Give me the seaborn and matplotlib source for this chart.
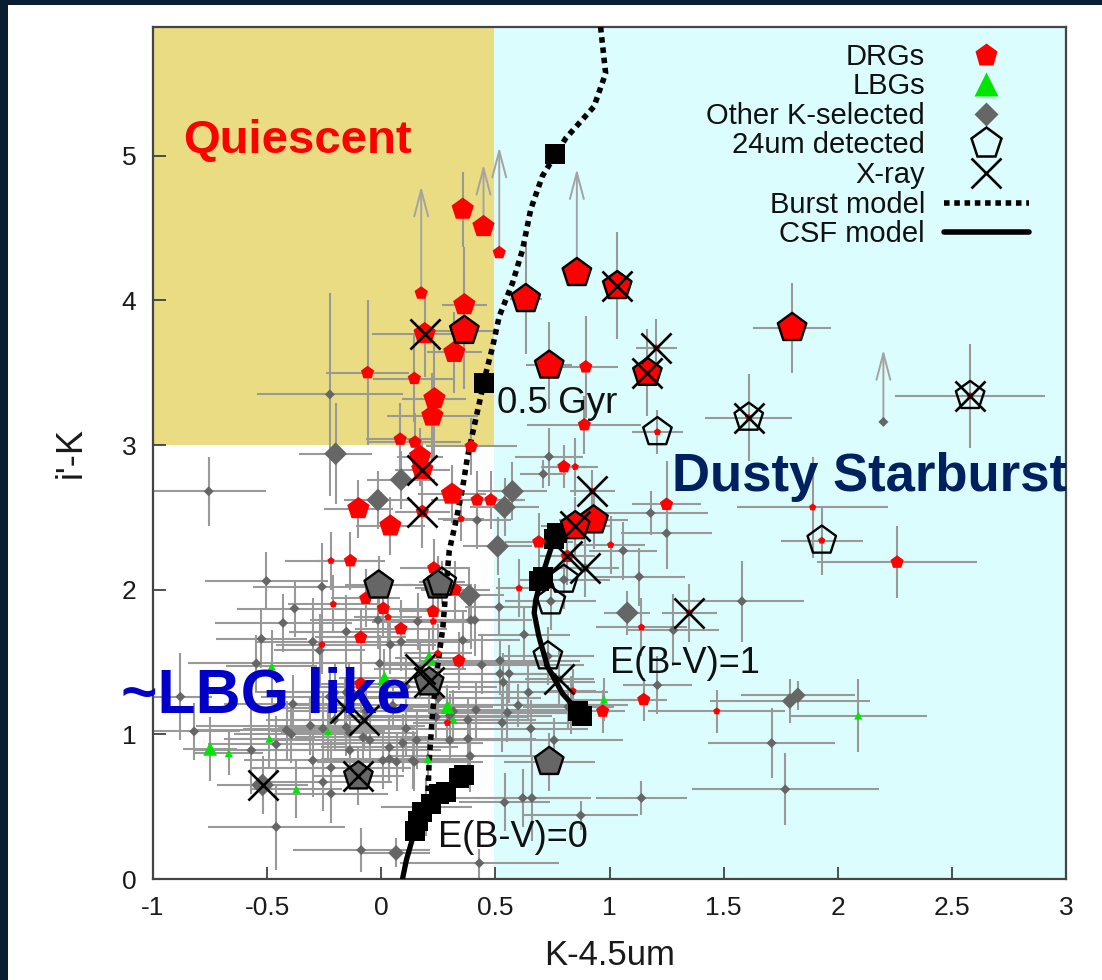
import numpy as np
import pandas as pd
import matplotlib
matplotlib.use("Agg")
import matplotlib.pyplot as plt
from matplotlib.patches import Rectangle
from matplotlib.lines import Line2D
import seaborn as sns

# ---------------------------------------------------------------------------
# Distant red galaxies (DRGs): colours, errors, K magnitude, 24um / X-ray flags
# ---------------------------------------------------------------------------
drg_x = [0.357, 0.448, 0.517, 0.175, 0.857, 0.633, 1.034, 0.364, 0.364, 0.320,
         0.190, 0.145, 0.233, 0.224, 0.736, 0.896, 1.205, 1.166, 1.210, 1.610,
         2.580, 1.800, -0.060, 0.890, 0.800, 0.850, 0.083, 0.148, 0.394, 0.170,
         0.180, -0.100, 0.040, 0.180, 0.310, 0.420, 0.480, 0.350, 0.690, 0.925,
         0.930, 0.850, 0.815, 1.005, 1.250, 1.890, 1.930, 2.260, 1.350, 1.140,
         1.150, 0.970, 1.470, 0.840, 0.604, -0.220, -0.135, 0.230, 0.248, 0.325,
         -0.068, -0.210, 0.009, 0.030, 0.227, 0.228, 0.086, -0.090, -0.260, 0.340,
         0.248, -0.090, 0.290]
drg_y = [4.63, 4.51, 4.33, 4.05, 4.19, 4.01, 4.10, 3.79, 3.97, 3.64,
         3.77, 3.46, 3.32, 3.20, 3.55, 3.54, 3.67, 3.50, 3.09, 3.19,
         3.34, 3.81, 3.50, 3.14, 2.85, 2.85, 3.04, 3.02, 2.99, 2.92,
         2.83, 2.56, 2.44, 2.54, 2.66, 2.62, 2.62, 2.49, 2.33, 2.68,
         2.48, 2.44, 2.23, 2.31, 2.59, 2.57, 2.34, 2.19, 1.84, 1.74,
         1.24, 1.16, 1.16, 1.30, 2.01, 2.20, 2.20, 2.15, 2.01, 2.00,
         1.94, 1.90, 1.87, 1.81, 1.85, 1.78, 1.73, 1.67, 1.62, 1.51,
         1.56, 1.35, 1.08]
drg_xerr = [0.04, 0.03, 0.00, 0.00, 0.00, 0.07, 0.03, 0.14, 0.10, 0.12,
            0.23, 0.18, 0.14, 0.20, 0.10, 0.14, 0.09, 0.04, 0.11, 0.19,
            0.33, 0.17, 0.18, 0.25, 0.10, 0.10, 0.15, 0.20, 0.20, 0.10,
            0.12, 0.15, 0.15, 0.12, 0.15, 0.20, 0.15, 0.10, 0.15, 0.10,
            0.15, 0.15, 0.12, 0.15, 0.15, 0.33, 0.18, 0.35, 0.12, 0.20,
            0.10, 0.10, 0.30, 0.10, 0.10, 0.20, 0.15, 0.15, 0.10, 0.15,
            0.15, 0.20, 0.20, 0.15, 0.15, 0.15, 0.20, 0.20, 0.20, 0.15,
            0.15, 0.20, 0.15]
drg_yerr = [0.26, 0.00, 0.00, 0.00, 0.00, 0.38, 0.37, 0.40, 0.40, 0.28,
            0.30, 0.30, 0.40, 0.30, 0.30, 0.35, 0.20, 0.30, 0.15, 0.30,
            0.36, 0.31, 0.50, 0.20, 0.15, 0.20, 0.25, 0.20, 0.20, 0.20,
            0.20, 0.20, 0.20, 0.25, 0.20, 0.20, 0.20, 0.15, 0.20, 0.15,
            0.20, 0.20, 0.20, 0.20, 0.30, 0.35, 0.24, 0.25, 0.20, 0.20,
            0.15, 0.15, 0.15, 0.15, 0.20, 0.20, 0.20, 0.20, 0.20, 0.20,
            0.20, 0.20, 0.20, 0.20, 0.20, 0.20, 0.20, 0.20, 0.20, 0.20,
            0.20, 0.20, 0.15]
drg_kmag = [19.9, 19.9, 21.0, 21.0, 19.9, 19.9, 19.9, 19.9, 19.9, 19.9,
            19.9, 21.0, 19.9, 19.9, 19.9, 21.0, 22.0, 19.9, 22.0, 22.0,
            22.0, 19.9, 21.0, 21.0, 21.0, 22.0, 21.0, 21.0, 21.0, 19.9,
            19.9, 19.9, 19.9, 21.0, 19.9, 21.0, 21.0, 22.0, 21.0, 22.0,
            19.9, 19.9, 21.0, 22.0, 21.0, 22.0, 22.0, 21.0, 22.0, 22.0,
            21.0, 21.0, 22.0, 22.0, 22.0, 22.0, 21.0, 21.0, 22.0, 21.0,
            21.0, 22.0, 21.0, 22.0, 21.0, 22.0, 21.0, 21.0, 22.0, 21.0,
            22.0, 21.0, 22.0]
drg_mips = [0, 0, 0, 0, 1, 1, 1, 1, 0, 0,
            0, 0, 0, 0, 1, 0, 0, 1, 1, 1,
            1, 1, 0, 0, 0, 0, 0, 0, 0, 0,
            0, 0, 0, 0, 0, 0, 0, 0, 0, 0,
            1, 1, 0, 0, 0, 0, 1, 0, 0, 0,
            0, 0, 0, 0, 0, 0, 0, 0, 0, 0,
            0, 0, 0, 0, 0, 0, 0, 0, 0, 0,
            0, 0, 0]
drg_xray = [0, 0, 0, 0, 0, 0, 1, 0, 0, 0,
            1, 0, 0, 0, 0, 0, 1, 1, 0, 1,
            1, 0, 0, 0, 0, 0, 0, 0, 0, 0,
            1, 0, 0, 1, 0, 0, 0, 0, 0, 1,
            0, 1, 1, 0, 0, 0, 0, 0, 1, 0,
            0, 0, 0, 0, 0, 0, 0, 0, 0, 0,
            0, 0, 0, 0, 0, 0, 0, 0, 0, 0,
            0, 0, 0]

# ---------------------------------------------------------------------------
# Lyman-break galaxies (LBGs)
# ---------------------------------------------------------------------------
lbg_x = [-0.750, -0.668, -0.490, -0.233, -0.372, -0.480, 0.014, 0.210, 0.290,
         0.316, 0.204, 0.976, 2.090]
lbg_y = [0.90, 0.87, 0.97, 1.02, 0.62, 1.47, 1.39, 1.53, 1.19,
         1.10, 0.83, 1.24, 1.13]
lbg_xerr = [0.12, 0.15, 0.20, 0.25, 0.20, 0.20, 0.20, 0.15, 0.20,
            0.20, 0.20, 0.15, 0.30]
lbg_yerr = [0.22, 0.15, 0.20, 0.20, 0.20, 0.25, 0.20, 0.20, 0.15,
            0.15, 0.15, 0.15, 0.25]
lbg_kmag = [21.0, 22.0, 22.0, 22.0, 22.0, 22.0, 21.0, 21.0, 21.0,
            22.0, 22.0, 22.0, 22.0]

# ---------------------------------------------------------------------------
# Other K-selected galaxies
# ---------------------------------------------------------------------------
oth_x = [-0.200, 0.087, -0.015, 0.575, 0.540, 0.510, 0.386, 1.078, -0.011, 0.248,
         0.210, -0.100, -0.520, 0.736, 0.065, -0.140, 1.790, 1.825, -0.756, -0.225,
         0.735, 0.710, 0.420, 1.180, 1.250, 1.060, 1.130, 0.517, 0.626, 0.820,
         0.520, 0.560, 1.580, 1.280, 1.210, 1.710, 1.770, 1.140, 0.874, 2.200,
         -0.503, -0.260, -0.380, -0.430, -0.153, -0.525, -0.300, -0.270, 0.087, 0.040,
         0.160, 0.357, 0.393, -0.880, -0.820, -0.387, -0.255, -0.153, -0.394, -0.569,
         -0.460, -0.300, -0.220, -0.255, -0.220, -0.460, -0.088, 0.430, 0.240, 0.300,
         0.300, 0.109, -0.080, 0.036, 0.145, 0.007, -0.066, -0.204, -0.139, -0.226,
         0.380, 0.553, 0.530, 0.655, 0.757, 0.415, 0.620, 0.660, 0.540, 0.138,
         0.036, 0.094, 0.197, 0.380, 0.830, 0.800, 0.743, 0.730, 0.780, 0.893,
         -0.160, -0.076, -0.014, 0.410, 0.265, 0.170, -0.547, -0.415, -0.050, 0.155,
         0.390, 0.316, 0.535, 0.440, 0.520, 0.645, -0.310, -0.138, 0.067, 0.109,
         -0.007, 0.340, -0.204, 0.250, 0.050, 0.600]
oth_y = [2.94, 2.76, 2.62, 2.68, 2.57, 2.30, 1.96, 1.84, 2.03, 2.03,
         1.36, 0.71, 0.65, 0.81, 0.18, 1.29, 1.23, 1.27, 2.68, 3.35,
         2.92, 2.80, 2.48, 2.53, 2.39, 2.27, 2.09, 1.88, 1.69, 1.19,
         1.42, 1.42, 1.92, 1.72, 1.34, 0.94, 0.62, 0.56, 0.44, 3.16,
         2.06, 2.02, 1.87, 1.77, 1.71, 1.66, 1.64, 1.58, 1.64, 1.62,
         1.78, 1.65, 1.79, 1.26, 1.02, 1.21, 1.04, 1.05, 1.00, 0.89,
         0.93, 0.82, 0.77, 0.67, 0.59, 0.36, 0.20, 0.11, 1.12, 1.13,
         0.96, 1.04, 0.98, 0.91, 0.81, 0.82, 1.16, 1.10, 1.01, 1.26,
         0.97, 1.15, 1.08, 1.04, 0.96, 1.17, 0.56, 0.56, 0.53, 0.82,
         0.83, 0.94, 0.50, 1.10, 1.20, 2.07, 1.92, 1.54, 1.38, 2.15,
         1.18, 1.10, 1.79, 1.79, 2.05, 1.45, 1.49, 1.03, 0.96, 0.96,
         0.85, 1.16, 1.36, 1.48, 1.51, 1.29, 1.06, 0.89, 0.81, 1.33,
         1.49, 1.49, 1.29, 1.25, 1.20, 1.20]
oth_xerr = [0.16, 0.15, 0.15, 0.15, 0.15, 0.15, 0.15, 0.10, 0.15, 0.15,
            0.20, 0.20, 0.20, 0.20, 0.15, 0.30, 0.35, 0.25, 0.25, 0.32,
            0.15, 0.10, 0.15, 0.25, 0.20, 0.15, 0.20, 0.15, 0.20, 0.20,
            0.25, 0.15, 0.27, 0.20, 0.15, 0.28, 0.41, 0.20, 0.25, 0.00,
            0.27, 0.30, 0.25, 0.30, 0.25, 0.20, 0.25, 0.20, 0.30, 0.20,
            0.20, 0.25, 0.20, 0.14, 0.20, 0.30, 0.35, 0.30, 0.25, 0.25,
            0.30, 0.30, 0.35, 0.30, 0.25, 0.30, 0.30, 0.35, 0.40, 0.45,
            0.35, 0.30, 0.30, 0.30, 0.30, 0.25, 0.35, 0.30, 0.30, 0.30,
            0.30, 0.35, 0.30, 0.25, 0.30, 0.40, 0.30, 0.25, 0.20, 0.25,
            0.30, 0.35, 0.20, 0.30, 0.25, 0.20, 0.20, 0.20, 0.15, 0.15,
            0.30, 0.30, 0.30, 0.25, 0.10, 0.20, 0.30, 0.40, 0.45, 0.40,
            0.35, 0.50, 0.40, 0.45, 0.35, 0.35, 0.50, 0.40, 0.35, 0.40,
            0.35, 0.40, 0.35, 0.45, 0.45, 0.35]
oth_yerr = [0.35, 0.20, 0.20, 0.20, 0.20, 0.20, 0.20, 0.15, 0.20, 0.20,
            0.20, 0.20, 0.20, 0.20, 0.10, 0.20, 0.15, 0.10, 0.24, 0.70,
            0.20, 0.10, 0.20, 0.15, 0.25, 0.20, 0.20, 0.20, 0.20, 0.15,
            0.15, 0.20, 0.28, 0.25, 0.20, 0.24, 0.25, 0.12, 0.10, 0.00,
            0.20, 0.30, 0.20, 0.20, 0.25, 0.20, 0.30, 0.25, 0.20, 0.20,
            0.20, 0.20, 0.20, 0.30, 0.20, 0.20, 0.25, 0.20, 0.20, 0.30,
            0.20, 0.25, 0.20, 0.20, 0.20, 0.30, 0.15, 0.10, 0.15, 0.15,
            0.15, 0.20, 0.20, 0.20, 0.20, 0.20, 0.20, 0.20, 0.15, 0.20,
            0.20, 0.20, 0.20, 0.20, 0.15, 0.20, 0.20, 0.30, 0.20, 0.20,
            0.15, 0.20, 0.20, 0.15, 0.20, 0.20, 0.20, 0.20, 0.20, 0.20,
            0.20, 0.20, 0.20, 0.25, 0.15, 0.20, 0.20, 0.20, 0.20, 0.20,
            0.25, 0.15, 0.20, 0.20, 0.15, 0.20, 0.20, 0.20, 0.20, 0.20,
            0.20, 0.15, 0.20, 0.15, 0.15, 0.15]
oth_kmag = [20.0, 20.0, 20.0, 20.0, 20.0, 20.0, 20.0, 20.0, 20.0, 20.0,
            20.0, 20.0, 20.0, 20.0, 21.0, 21.0, 21.0, 21.0, 22.0, 22.0,
            22.0, 22.0, 22.0, 22.0, 22.0, 22.0, 22.0, 22.0, 22.0, 22.0,
            22.0, 22.0, 22.0, 22.0, 22.0, 22.0, 22.0, 22.0, 22.0, 22.0,
            22.0, 22.0, 22.0, 22.0, 22.0, 22.0, 22.0, 22.0, 22.0, 22.0,
            22.0, 22.0, 22.0, 22.0, 22.0, 22.0, 22.0, 22.0, 22.0, 22.0,
            22.0, 22.0, 22.0, 22.0, 22.0, 22.0, 22.0, 22.0, 22.0, 22.0,
            22.0, 22.0, 22.0, 22.0, 22.0, 22.0, 22.0, 22.0, 22.0, 22.0,
            22.0, 22.0, 22.0, 22.0, 22.0, 22.0, 22.0, 22.0, 22.0, 22.0,
            22.0, 22.0, 22.0, 22.0, 22.0, 22.0, 22.0, 22.0, 22.0, 22.0,
            22.0, 22.0, 22.0, 22.0, 22.0, 22.0, 22.0, 22.0, 22.0, 22.0,
            22.0, 22.0, 22.0, 22.0, 22.0, 22.0, 22.0, 22.0, 22.0, 22.0,
            22.0, 22.0, 22.0, 22.0, 22.0, 22.0]
oth_mips = [0, 0, 0, 0, 0, 0, 0, 0, 1, 1,
            1, 1, 0, 1, 0, 0, 0, 0, 0, 0,
            0, 0, 0, 0, 0, 0, 0, 0, 0, 0,
            0, 0, 0, 0, 0, 0, 0, 0, 0, 0,
            0, 0, 0, 0, 0, 0, 0, 0, 0, 0,
            0, 0, 0, 0, 0, 0, 0, 0, 0, 0,
            0, 0, 0, 0, 0, 0, 0, 0, 0, 0,
            0, 0, 0, 0, 0, 0, 0, 0, 0, 0,
            0, 0, 0, 0, 0, 0, 0, 0, 0, 0,
            0, 0, 0, 0, 0, 1, 1, 1, 0, 0,
            0, 0, 0, 0, 1, 0, 0, 0, 0, 0,
            0, 0, 0, 0, 0, 0, 0, 0, 0, 0,
            0, 0, 0, 0, 0, 0]
oth_xray = [0, 0, 0, 0, 0, 0, 0, 0, 0, 0,
            1, 1, 1, 0, 0, 0, 0, 0, 0, 0,
            0, 0, 0, 0, 0, 0, 0, 0, 0, 0,
            0, 0, 0, 0, 0, 0, 0, 0, 0, 0,
            0, 0, 0, 0, 0, 0, 0, 0, 0, 0,
            0, 0, 0, 0, 0, 0, 0, 0, 0, 0,
            0, 0, 0, 0, 0, 0, 0, 0, 0, 0,
            0, 0, 0, 0, 0, 0, 0, 0, 0, 0,
            0, 0, 0, 0, 0, 0, 0, 0, 0, 0,
            0, 0, 0, 0, 0, 0, 0, 0, 1, 1,
            1, 1, 0, 0, 0, 1, 0, 0, 0, 0,
            0, 0, 0, 0, 0, 0, 0, 0, 0, 0,
            0, 0, 0, 0, 0, 0]

# lower limits in i'-K (source colour -> limit)
lim_x = [0.448, 0.517, 0.175, 0.857, 2.200]
lim_y = [4.51, 4.33, 4.05, 4.19, 3.16]
lim_top = [4.94, 5.06, 4.79, 4.91, 3.66]

# ---------------------------------------------------------------------------
# Model tracks
# ---------------------------------------------------------------------------
burst_x = [0.961, 0.983, 0.932, 0.808, 0.706, 0.655, 0.619, 0.575, 0.517, 0.488,
           0.459, 0.400, 0.378, 0.357, 0.328, 0.298, 0.284, 0.270, 0.245, 0.225,
           0.210, 0.204]
burst_y = [5.89, 5.57, 5.34, 5.12, 4.86, 4.63, 4.35, 4.12, 3.89, 3.68,
           3.50, 3.08, 2.92, 2.71, 2.48, 2.27, 2.02, 1.74, 1.45, 1.15,
           0.82, 0.57]
burst_age_x = [0.760, 0.450]
burst_age_y = [5.01, 3.43]

csf0_x = [0.093, 0.110, 0.137, 0.160, 0.200, 0.270, 0.364]
csf0_y = [0.00, 0.13, 0.28, 0.38, 0.48, 0.60, 0.72]
csf1_x = [0.880, 0.795, 0.728, 0.690, 0.670, 0.677, 0.700, 0.728, 0.757, 0.790]
csf1_y = [1.13, 1.28, 1.47, 1.68, 1.84, 1.93, 2.07, 2.21, 2.35, 2.42]
csf_age_x = [0.150, 0.160, 0.180, 0.220, 0.255, 0.285, 0.340, 0.364,
             0.860, 0.880, 0.690, 0.710, 0.757, 0.772]
csf_age_y = [0.33, 0.40, 0.46, 0.52, 0.59, 0.60, 0.70, 0.72,
             1.16, 1.13, 2.06, 2.09, 2.35, 2.39]

xtick_vals = [-1, -0.5, 0, 0.5, 1, 1.5, 2, 2.5, 3]
xtick_labels = ["-1", "-0.5", "0", "0.5", "1", "1.5", "2", "2.5", "3"]
ytick_vals = [0, 1, 2, 3, 4, 5]
ytick_labels = ["0", "1", "2", "3", "4", "5"]

legend_labels = ["DRGs", "LBGs", "Other K-selected", "24um detected", "X-ray",
                 "Burst model", "CSF model"]

# ---------------------------------------------------------------------------
RED, GREEN, GREY = "#FF0000", "#00E600", "#666666"
BAR = "#999999"
DOTS = (0, (1.0, 0.85))


def kclass(mag):
    mag = np.asarray(mag, dtype=float)
    return np.where(mag < 20.5, "bright", np.where(mag < 21.5, "mid", "faint"))


drg = pd.DataFrame(dict(x=drg_x, y=drg_y, xerr=drg_xerr, yerr=drg_yerr,
                        kmag=drg_kmag, mips=drg_mips, xray=drg_xray))
drg["color"] = RED
lbg = pd.DataFrame(dict(x=lbg_x, y=lbg_y, xerr=lbg_xerr, yerr=lbg_yerr,
                        kmag=lbg_kmag))
lbg["mips"] = 0
lbg["xray"] = 0
lbg["color"] = GREEN
oth = pd.DataFrame(dict(x=oth_x, y=oth_y, xerr=oth_xerr, yerr=oth_yerr,
                        kmag=oth_kmag, mips=oth_mips, xray=oth_xray))
oth["color"] = GREY
for df in (drg, lbg, oth):
    df["kclass"] = kclass(df["kmag"])

sns.set_theme(style="ticks")
plt.rcParams["font.family"] = ["Liberation Sans", "DejaVu Sans"]
plt.rcParams["axes.unicode_minus"] = False

W, H = 1102, 980
fig = plt.figure(figsize=(W / 100, H / 100), dpi=100)
fig.patch.set_facecolor("#0B1D33")
fig.add_artist(Rectangle((8 / W, 0), 1 - 8 / W, 1 - 5 / H, transform=fig.transFigure,
                         facecolor="white", edgecolor="none", zorder=-5))

ax_l, ax_r, ax_t, ax_b = 153, 1066, 27, 879
ax = fig.add_axes([ax_l / W, 1 - ax_b / H, (ax_r - ax_l) / W, (ax_b - ax_t) / H])
ax.set_facecolor("white")
ax.set_xlim(-1, 3)
ax.set_ylim(0, 5.89)

# colour-selected regions
ax.add_patch(Rectangle((-1, 3), 1.495, 3.0, facecolor="#E9DC82", edgecolor="none", zorder=0))
ax.add_patch(Rectangle((0.495, 0), 2.6, 6.0, facecolor="#DCFDFD", edgecolor="none", zorder=0))

# error bars
for df in (oth, lbg, drg):
    ax.errorbar(df["x"], df["y"], xerr=df["xerr"], yerr=df["yerr"], fmt="none",
                ecolor=BAR, elinewidth=1.5, capsize=0, zorder=2)
for lx, ly, lt in zip(lim_x, lim_y, lim_top):
    ax.annotate("", xy=(lx, lt), xytext=(lx, ly),
                arrowprops=dict(arrowstyle="->,head_length=0.95,head_width=0.25",
                                color="#A3A3A3", lw=1.4, shrinkA=0, shrinkB=0,
                                mutation_scale=20),
                zorder=2)

# galaxy samples
sns.scatterplot(data=oth, x="x", y="y", size="kclass",
                sizes={"bright": 135, "mid": 65, "faint": 26},
                marker="D", color=GREY, linewidth=0, legend=False, ax=ax, zorder=3)

# model tracks
ax.plot(burst_x, burst_y, color="black", lw=4.0, ls=DOTS, zorder=4)
ax.plot(csf0_x, csf0_y, color="black", lw=3.8, solid_capstyle="round", zorder=4)
ax.plot(csf1_x, csf1_y, color="black", lw=3.8, solid_capstyle="round", zorder=4)
sns.scatterplot(x=burst_age_x, y=burst_age_y, marker="s", s=225, color="black",
                linewidth=0, legend=False, ax=ax, zorder=4)
sns.scatterplot(x=csf_age_x, y=csf_age_y, marker="s", s=210, color="black",
                linewidth=0, legend=False, ax=ax, zorder=4)

sns.scatterplot(data=lbg, x="x", y="y", size="kclass",
                sizes={"bright": 160, "mid": 100, "faint": 34},
                marker="^", color=GREEN, linewidth=0, legend=False, ax=ax, zorder=5)
sns.scatterplot(data=drg, x="x", y="y", size="kclass",
                sizes={"bright": 286, "mid": 100, "faint": 30},
                marker="p", color=RED, linewidth=0, legend=False, ax=ax, zorder=5)

# 24um and X-ray detections
allsrc = pd.concat([drg, lbg, oth], ignore_index=True)
mips = allsrc[allsrc["mips"] == 1]
fills = [c if k == "bright" else "none" for c, k in zip(mips["color"], mips["kclass"])]
ax.scatter(mips["x"], mips["y"], s=465, marker="p", facecolors=fills,
           edgecolors="black", linewidths=1.7, zorder=6)
xr = allsrc[allsrc["xray"] == 1]
sns.scatterplot(data=xr, x="x", y="y", marker="x", s=470, color="black",
                linewidth=1.9, legend=False, ax=ax, zorder=7)

# axes styling
ax.set_xticks(xtick_vals)
ax.set_xticklabels(xtick_labels)
ax.set_yticks(ytick_vals)
ax.set_yticklabels(ytick_labels)
ax.tick_params(axis="both", direction="in", length=9, width=1.2, color="#333333",
               labelsize=19, labelcolor="#1A1A1A", pad=12,
               bottom=True, left=True, top=False, right=False)
for sp in ax.spines.values():
    sp.set_visible(True)
    sp.set_color("#444444")
    sp.set_linewidth(1.6)
ax.set_xlabel("K-4.5um", fontsize=25, color="#1A1A1A", labelpad=14)
ax.set_ylabel("i'-K", fontsize=26, color="#1A1A1A", labelpad=24)

# region labels and model annotations
ax.text(-0.869, 5.02, "Quiescent", color="#FF0000", fontsize=34, fontweight="bold",
        ha="left", va="baseline", zorder=8)
ax.text(1.274, 2.68, "Dusty Starburst", color="#002060", fontsize=38, fontweight="bold",
        ha="left", va="baseline", zorder=8, clip_on=False)
ax.text(-1.14, 1.148, "~LBG like", color="#0000C8", fontsize=45, fontweight="bold",
        ha="left", va="baseline", zorder=8, clip_on=False)
ax.text(0.507, 3.22, "0.5 Gyr", color="#111111", fontsize=26.5, ha="left",
        va="baseline", zorder=8)
ax.text(1.002, 1.425, "E(B-V)=1", color="#111111", fontsize=26, ha="left",
        va="baseline", zorder=8)
ax.text(0.249, 0.221, "E(B-V)=0", color="#111111", fontsize=26, ha="left",
        va="baseline", zorder=8)


# legend, drawn row by row in figure pixels
def fxy(px, py):
    return px / W, 1 - py / H


rows_y = [55, 84, 114, 143, 173, 203, 232]
for lab, ry in zip(legend_labels, rows_y):
    tx, ty = fxy(925, ry + 10)
    fig.text(tx, ty, lab, fontsize=21, color="#111111", ha="right", va="baseline")

handle_kw = [
    dict(marker="p", ms=17, color=RED, mec="none", ls="none"),
    dict(marker="^", ms=17, color=GREEN, mec="none", ls="none"),
    dict(marker="D", ms=12, color=GREY, mec="none", ls="none"),
    dict(marker="p", ms=23, mfc="none", mec="black", mew=1.8, ls="none"),
    dict(marker="x", ms=22, color="black", mew=1.9, ls="none"),
]
for kw, ry in zip(handle_kw, rows_y[:5]):
    hx, hy = fxy(986, ry)
    fig.add_artist(Line2D([hx], [hy], transform=fig.transFigure, **kw))
x0, yb = fxy(944, rows_y[5])
x1, _ = fxy(1029, rows_y[5])
fig.add_artist(Line2D([x0, x1], [yb, yb], transform=fig.transFigure, color="black",
                      lw=4.0, ls=DOTS))
_, yc = fxy(944, rows_y[6])
fig.add_artist(Line2D([x0, x1], [yc, yc], transform=fig.transFigure, color="black",
                      lw=4.0))

fig.savefig("out.png", dpi=100, facecolor=fig.get_facecolor())
